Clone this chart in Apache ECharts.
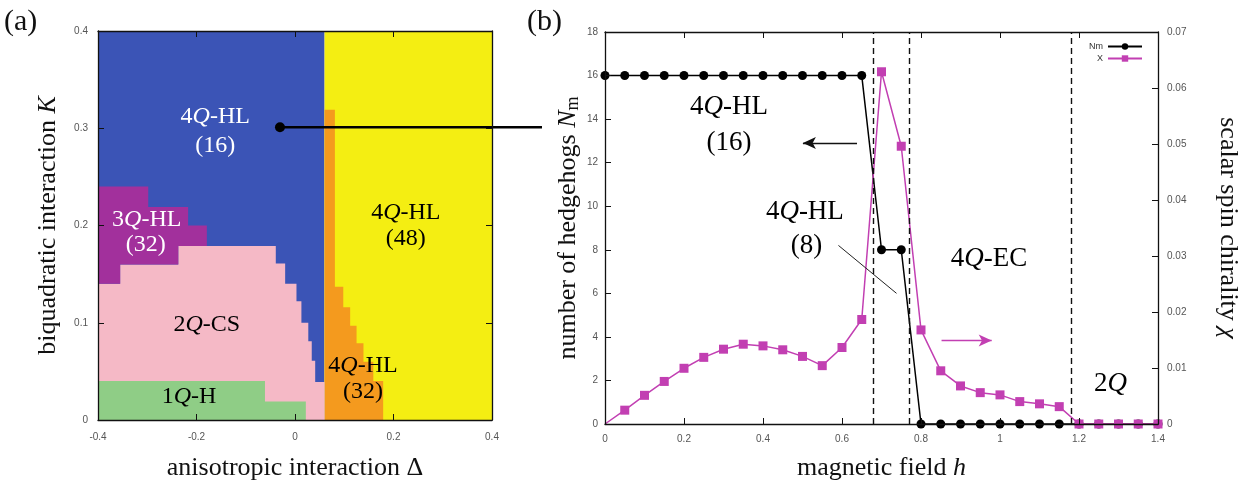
<!DOCTYPE html>
<html><head><meta charset="utf-8">
<script src="https://cdn.jsdelivr.net/npm/echarts@6.0.0/dist/echarts.min.js"></script>
<style>html,body{margin:0;padding:0;background:#fff}#c{width:1244px;height:486px}</style>
</head><body><div id="c"></div>
<script>
// ---------- Panel (a): phase diagram (Δ, K) ----------
const phaseBlue   = [[-0.4,0],[-0.4,0.4],[0.06,0.4],[0.06,0]];                 // 4Q-HL (16)
const phaseYellow = [[0.06,0],[0.06,0.4],[0.4,0.4],[0.4,0]];                   // 4Q-HL (48)
const phaseOrange = [[0.06,0],[0.06,0.319],[0.081,0.319],[0.081,0.137],[0.098,0.137],[0.098,0.116],[0.112,0.116],[0.112,0.097],[0.125,0.097],[0.125,0.079],[0.139,0.079],[0.139,0.060],[0.159,0.060],[0.159,0.040],[0.179,0.040],[0.179,0]]; // 4Q-HL (32)
const phasePink   = [[-0.4,0],[-0.4,0.140],[-0.355,0.140],[-0.355,0.160],[-0.237,0.160],[-0.237,0.179],[-0.039,0.179],[-0.039,0.161],[-0.020,0.161],[-0.020,0.140],[0.003,0.140],[0.003,0.122],[0.013,0.122],[0.013,0.100],[0.027,0.100],[0.027,0.081],[0.034,0.081],[0.034,0.061],[0.041,0.061],[0.041,0.039],[0.06,0.039],[0.06,0]]; // 2Q-CS
const phasePurple = [[-0.4,0.140],[-0.4,0.240],[-0.298,0.240],[-0.298,0.219],[-0.217,0.219],[-0.217,0.200],[-0.179,0.200],[-0.179,0.179],[-0.237,0.179],[-0.237,0.160],[-0.355,0.160],[-0.355,0.140]]; // 3Q-HL (32)
const phaseGreen  = [[-0.4,0],[-0.4,0.040],[-0.061,0.040],[-0.061,0.019],[0.022,0.019],[0.022,0]]; // 1Q-H
const phases = [phaseBlue, phaseYellow, phaseOrange, phasePink, phasePurple, phaseGreen];
const phaseColors = ['#3b54b6','#f4ee12','#f49a1e','#f5b9c6','#a2309c','#8fcd86'];

const labelsA    = ['4Q-HL','(16)','3Q-HL','(32)','2Q-CS','1Q-H','4Q-HL','(32)','4Q-HL','(48)'];
const labelsAPos = [[-0.162,0.312],[-0.162,0.282],[-0.301,0.206],[-0.303,0.180],[-0.179,0.098],[-0.215,0.024],[0.138,0.056],[0.138,0.029],[0.225,0.213],[0.225,0.186]];
const labelsAColor = ['#fff','#fff','#fff','#fff','#000','#000','#000','#000','#000','#000'];
const connector = [[-0.0305,0.301],[0.5015,0.301]];

// ---------- Panel (b): field dependence ----------
const hField = [0,0.05,0.1,0.15,0.2,0.25,0.3,0.35,0.4,0.45,0.5,0.55,0.6,0.65,0.7,0.75,0.8,0.85,0.9,0.95,1.0,1.05,1.1,1.15,1.2,1.25,1.3,1.35,1.4];
const Nm   = [16,16,16,16,16,16,16,16,16,16,16,16,16,16,8,8,0,0,0,0,0,0,0,0,0,0,0,0,0];
const chi  = [0,0.00247,0.00512,0.0076,0.00995,0.0119,0.01336,0.01425,0.01395,0.01325,0.01207,0.01042,0.01366,0.01866,0.0629,0.0496,0.0168,0.0095,0.0068,0.0056,0.0052,0.0040,0.0036,0.0031,0,0,0,0,0];
const phaseBoundaries = [0.675,0.774,1.175];
const labelsB    = ['4Q-HL','(16)','4Q-HL','(8)','4Q-EC','2Q'];
const labelsBPos = [[0.314,14.55],[0.314,12.9],[0.506,9.72],[0.51,8.18],[0.972,7.6],[1.28,1.83]];
const arrowBlack   = [[0.638,12.9],[0.501,12.9]];
const pointerLine  = [[0.591,8.2],[0.738,6.0]];
const arrowMagenta = [[0.852,3.83],[0.979,3.83]];

const SERIF = 'Liberation Serif';
const SANS = 'Liberation Sans';
const MAG = '#c23fb2';

function ax(extra){
  return Object.assign({
    type:'value', z:10,
    axisLine:{show:true,onZero:false,lineStyle:{color:'#111',width:1.3}},
    axisTick:{show:true,inside:true,length:6,lineStyle:{color:'#111',width:1}},
    splitLine:{show:false},
    axisLabel:{show:true,color:'#555',fontSize:10,fontFamily:SANS},
    nameTextStyle:{fontFamily:SERIF,fontSize:26,color:'#111',
      rich:{i:{fontFamily:SERIF,fontSize:26,fontStyle:'italic',color:'#111'},
            s:{fontFamily:SERIF,fontSize:18,color:'#111',padding:[10,0,0,0]}}}
  }, extra);
}
function mirror(extra){
  return ax(Object.assign({axisLabel:{show:false}}, extra));
}
function qfmt(t){ return t.replace(/Q/g,'{q|Q}'); }

// text labels drawn through a custom series (data coordinates -> pixels via api.coord)
function textSeries(xi, yi, texts, pos, colors, size){
  return {
    type:'custom', xAxisIndex:xi, yAxisIndex:yi, silent:true, z:6, clip:false,
    data: pos.map((p,i)=>[p[0],p[1],i]),
    renderItem:function(params, api){
      const i = params.dataIndex;
      const c = api.coord(pos[i]);
      return {type:'text', x:c[0], y:c[1], style:{
        text:qfmt(texts[i]), fill:colors[i], align:'center', verticalAlign:'middle',
        fontFamily:SERIF, fontSize:size,
        rich:{q:{fontStyle:'italic',fontFamily:SERIF,fontSize:size,fill:colors[i]}}
      }};
    }
  };
}

const chart = echarts.init(document.getElementById('c'));
chart.setOption({
  animation:false,
  backgroundColor:'#fff',
  grid:[
    {left:98, top:31, width:394, height:394},
    {left:605, top:32, width:553, height:395}
  ],
  xAxis:[
    ax({gridIndex:0,min:-0.4,max:0.4,interval:0.2,axisLabel:{color:'#555',fontSize:10,fontFamily:SANS,margin:12},
        name:'anisotropic interaction Δ',nameLocation:'middle',nameGap:35}),
    ax({gridIndex:1,min:0,max:1.4,interval:0.2,axisLabel:{color:'#555',fontSize:10,fontFamily:SANS,margin:10},
        name:'magnetic field {i|h}',nameLocation:'middle',nameGap:31}),
    mirror({gridIndex:0,min:-0.4,max:0.4,interval:0.2,position:'top'}),
    mirror({gridIndex:1,min:0,max:1.4,interval:0.2,position:'top'})
  ],
  yAxis:[
    ax({gridIndex:0,min:0,max:0.4,interval:0.1,axisLabel:{color:'#555',fontSize:10,fontFamily:SANS,margin:10},
        name:'biquadratic interaction {i|K}',nameLocation:'middle',nameGap:37}),
    ax({gridIndex:1,min:0,max:18,interval:2,axisLabel:{color:'#555',fontSize:10,fontFamily:SANS,margin:7},
        name:'number of hedgehogs {i|N}{s|m}',nameLocation:'middle',nameGap:23}),
    ax({gridIndex:1,min:0,max:0.07,interval:0.01,position:'right',axisLabel:{color:'#555',fontSize:10,fontFamily:SANS,margin:9},
        name:'scalar spin chirality {i|χ}',nameLocation:'middle',nameGap:57,nameRotate:-90}),
    mirror({gridIndex:0,min:0,max:0.4,interval:0.1,position:'right'})
  ],
  legend:{
    data:['Nm','X'], orient:'vertical', right:96, top:37, align:'right',
    itemWidth:34, itemHeight:8, itemGap:3,
    textStyle:{fontFamily:SANS,fontSize:9,color:'#333'}
  },
  graphic:[
    {type:'text',left:4,top:7,style:{text:'(a)',font:'30px "Liberation Serif"',fill:'#111'}},
    {type:'text',left:527,top:7,style:{text:'(b)',font:'30px "Liberation Serif"',fill:'#111'}}
  ],
  series:[
    {
      type:'custom', xAxisIndex:0, yAxisIndex:0, silent:true, z:1,
      data: phases.map((p,i)=>[0,0,i]),
      renderItem:function(params, api){
        const pts = phases[params.dataIndex].map(p=>api.coord(p));
        return {type:'polygon', shape:{points:pts}, style:{fill:phaseColors[params.dataIndex]}};
      }
    },
    {
      type:'custom', xAxisIndex:0, yAxisIndex:0, silent:true, z:5, clip:false,
      data:[[connector[0][0],connector[0][1],0]],
      renderItem:function(params, api){
        const a = api.coord(connector[0]), b = api.coord(connector[1]);
        return {type:'group', children:[
          {type:'line', shape:{x1:a[0],y1:a[1],x2:b[0],y2:b[1]}, style:{stroke:'#000',lineWidth:2.5}},
          {type:'circle', shape:{cx:a[0],cy:a[1],r:5}, style:{fill:'#000'}}
        ]};
      }
    },
    textSeries(0,0,labelsA,labelsAPos,labelsAColor,24),
    {
      name:'Nm', type:'line', xAxisIndex:1, yAxisIndex:1, z:3,
      data: hField.map((h,i)=>[h,Nm[i]]),
      symbol:'circle', symbolSize:9, showAllSymbol:true,
      lineStyle:{color:'#000',width:1.5}, itemStyle:{color:'#000'},
      markLine:{silent:true, symbol:['none','none'], label:{show:false},
        lineStyle:{color:'#111',width:1.4,type:[6,4]},
        data: phaseBoundaries.map(v=>({xAxis:v}))}
    },
    {
      name:'X', type:'line', xAxisIndex:1, yAxisIndex:2, z:4,
      data: hField.map((h,i)=> i===0 ? {value:[h,chi[i]],symbolSize:0} : [h,chi[i]]),
      symbol:'rect', symbolSize:9, showAllSymbol:true,
      lineStyle:{color:MAG,width:1.5}, itemStyle:{color:MAG}
    },
    textSeries(1,1,labelsB,labelsBPos,labelsB.map(()=> '#000'),27),
    {
      type:'line', xAxisIndex:1, yAxisIndex:1, data:[], z:6, silent:true,
      markLine:{silent:true, symbol:['none','arrow'], symbolSize:[9,13], label:{show:false},
        lineStyle:{color:'#111',width:1.4,type:'solid'},
        data:[[{coord:arrowBlack[0]},{coord:arrowBlack[1]}]]}
    },
    {
      type:'line', xAxisIndex:1, yAxisIndex:1, data:[], z:6, silent:true,
      markLine:{silent:true, symbol:['none','arrow'], symbolSize:[9,13], label:{show:false},
        lineStyle:{color:MAG,width:1.4,type:'solid'},
        data:[[{coord:arrowMagenta[0]},{coord:arrowMagenta[1]}]]}
    },
    {
      type:'line', xAxisIndex:1, yAxisIndex:1, data:[], z:6, silent:true,
      markLine:{silent:true, symbol:['none','none'], label:{show:false},
        lineStyle:{color:'#222',width:1,type:'solid'},
        data:[[{coord:pointerLine[0]},{coord:pointerLine[1]}]]}
    }
  ]
});
</script></body></html>
